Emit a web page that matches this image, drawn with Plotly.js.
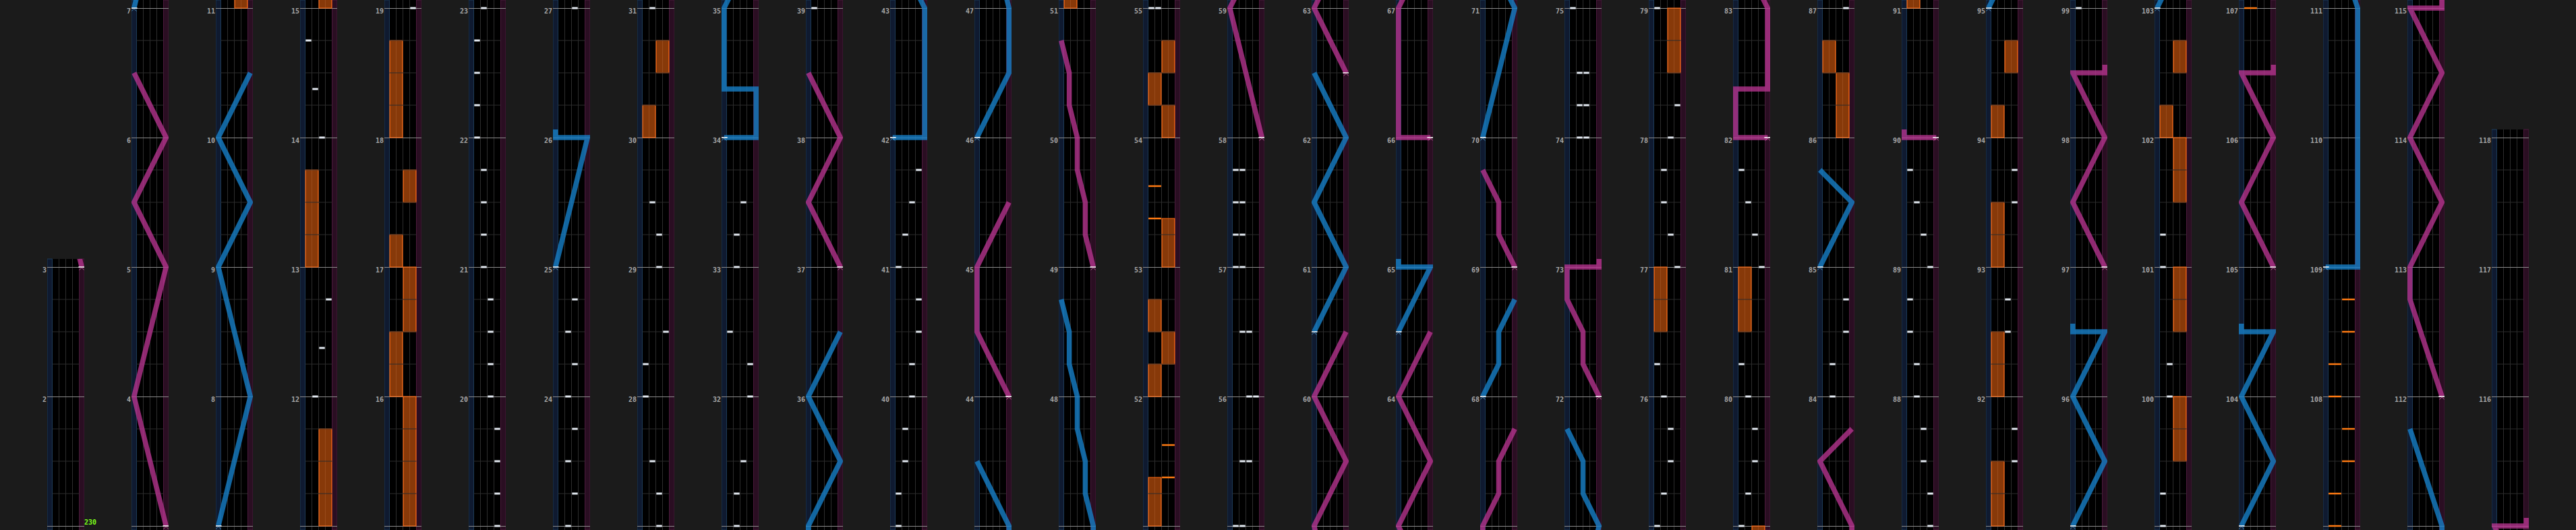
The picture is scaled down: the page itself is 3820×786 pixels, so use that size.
<!DOCTYPE html>
<html><head><meta charset="utf-8">
<script src="https://cdn.plot.ly/plotly-3.0.1.min.js"></script>
<style>html,body{margin:0;padding:0;background:#1b1b1b;overflow:hidden}</style>
</head><body><div id="chart" style="width:3820px;height:786px"></div>
<script>
// ---------------- chart data (measures are 1-based, fractions = position in measure) ----------------
const firstMeasure = 1;
const lastMeasure = 118;
const bpmMarks = [[1, 230]];                 // [measure, bpm]
// BT chips: [time, lane 0..3]
const btNotes = [
  [12,1],[12.375,2],[12.75,3],[14,2],[14.375,1],[14.75,0],
  [19,3],[19.25,3],[19.5,3],[19.75,3],[20,2],[20.25,2],[20.5,2],[20.75,2],
  [21,1],[21.25,1],[21.5,1],[21.75,1],[22,0],[22.25,0],[22.5,0],[22.75,0],
  [23,1],[23.25,2],[23.5,1],[23.75,2],[24,1],[24.25,2],[24.5,1],[24.75,2],
  [27,2],[27.25,2],[27.5,1],[28,0],[28.25,0],[28.5,3],[29,2],[29.25,2],[29.5,1],
  [31,1],[31.25,1],[31.5,2],[32,3],[32.25,3],[32.5,0],[33,1],[33.25,1],[33.5,2],
  [39,0],[39.25,0],[39.5,1],[39.75,1],[40,2],[40.25,2],[40.5,3],[40.75,3],
  [41,0],[41.25,1],[41.5,2],[41.75,3],
  [55,0],[55,1],[55.5,1],[55.5,2],[56,2],[56,3],[56.5,1],[56.5,2],
  [57,0],[57,1],[57.25,0],[57.25,1],[57.5,0],[57.5,1],[57.75,0],[57.75,1],
  [74,1],[74,2],[74.25,1],[74.25,2],[74.5,1],[74.5,2],
  [75,0],[75.25,1],[75.5,2],[75.75,2],[76,1],[76.25,0],
  [77,3],[77.25,2],[77.5,1],[77.75,1],[78,2],[78.25,3],
  [79,0],[79.25,1],[79.5,2],[79.75,2],[80,1],[80.25,0],
  [81,3],[81.25,2],[81.5,1],[81.75,0],
  [84,1],[84.25,1],[84.5,3],[84.75,3],
  [87,3],[87.25,3],[87.5,2],[87.75,2],[88,1],[88.25,1],[88.5,0],[88.75,0],
  [89,3],[89.25,2],[89.5,1],[89.75,0],
  [91.5,3],[91.75,3],[92.5,2],[92.75,2],[93.5,3],[93.75,3],
  [99,0],[99.25,0],[100,1],[100.25,1],[101,0],[101.25,0]
];
// FX chips: [time, side 0=L 1=R]
const fxChips = [
  [51.375,1],[51.625,1],[53.375,0],[53.625,0],
  [107,0],[107.25,0],[107.5,1],[107.75,1],[108,0],[108.25,0],[108.5,1],[108.75,1]
];
// FX holds: [start, end, side]
const fxHolds = [
  [11,11.75,1],[13,13.75,0],[15,16,1],[16,16.5,0],[16.5,17,1],[17,17.25,0],[17.5,17.75,1],[18,18.75,0],
  [30,30.25,0],[30.5,30.75,1],
  [51,51.375,0],[52,52.25,0],[52.25,52.5,1],[52.5,52.75,0],[53,53.375,1],[54,54.25,1],[54.25,54.5,0],[54.5,54.75,1],
  [76.5,77,0],[78.5,79,1],[80.5,81,0],[86,86.5,1],[86.5,86.75,0],
  [91,91.5,0],[92,92.5,0],[93,93.5,0],[94,94.25,0],[94.5,94.75,1],
  [99.5,100,1],[100.5,101,1],[101.5,102,1],[102,102.25,0],[102.5,102.75,1]
];
// lasers: list of [time, position 0..1]
const blueLasers = [
  [[7,0],[8,1],[9,0],[9.5,1],[10,0],[10.5,1]],
  [[25,0],[26,1],[26,0],[26.0625,0]],
  [[34,0],[34,1],[34.375,1],[34.375,0],[35,0],[35.5,1],[36,0],[36.5,1]],
  [[42,0],[42,1],[43,1],[43.5,0]],
  [[46,0],[46.5,1],[47,1],[47.25,0.75],[47.5,0.75],[47.75,0.5],[48,0.5],[48.25,0.25],[48.5,0.25],[48.75,0]],
  [[60.5,0],[61,1],[61.5,0],[62,1],[62.5,0]],
  [[64.5,0],[65,1],[65,0],[65.0625,0]],
  [[68,0],[68.25,0.5],[68.5,0.5],[68.75,1]],
  [[70,0],[71,1],[71.25,0.5],[71.5,0.5],[71.75,0]],
  [[85,0],[85.5,1],[85.75,0]],
  [[95,0],[95.5,1],[96,0],[96.5,1],[96.5,0],[96.5625,0]],
  [[103,0],[103.5,1],[104,0],[104.5,1],[104.5,0],[104.5625,0]],
  [[109,0],[109,1],[111,1],[111.75,0]]
];
const pinkLasers = [
  [[3,1],[4,0],[5,1],[5.5,0],[6,1],[6.5,0]],
  [[37,1],[37.5,0],[38,1],[38.5,0]],
  [[44,1],[44.5,0],[45,0],[45.5,1]],
  [[49,1],[49.25,0.75],[49.5,0.75],[49.75,0.5],[50,0.5],[50.25,0.25],[50.5,0.25],[50.75,0]],
  [[58,1],[59,0],[59.5,1],[60,0],[60.5,1]],
  [[62.5,1],[63,0],[63.5,1],[64,0],[64.5,1]],
  [[66,1],[66,0],[67,0],[67.25,0.5],[67.5,0.5],[67.75,1]],
  [[69,1],[69.25,0.5],[69.5,0.5],[69.75,0]],
  [[72,1],[72.25,0.5],[72.5,0.5],[72.75,0],[73,0],[73,1],[73.0625,1]],
  [[82,1],[82,0],[82.375,0],[82.375,1],[83,1],[83.5,0],[83.75,1]],
  [[90,1],[90,0],[90.0625,0]],
  [[97,1],[97.5,0],[98,1],[98.5,0],[98.5,1],[98.5625,1]],
  [[105,1],[105.5,0],[106,1],[106.5,0],[106.5,1],[106.5625,1]],
  [[112,1],[112.75,0],[113,0],[113.5,1],[114,0],[114.5,1],[115,0],[115,1],[115.0625,1]]
];

// ---------------- layout geometry ----------------
const W = 3820, H = 786;
const COL_X0 = 70, COL_STEP = 125, COL_W = 55;
const PX_PER_MEASURE = 192;
const PAD_TOP = 12 / PX_PER_MEASURE, PAD_BOTTOM = 6 / PX_PER_MEASURE;
const PER_COL = 4;
const nCols = Math.ceil((lastMeasure - 3) / PER_COL) + 1;
const laserX = p => -0.375 + p * 4.75;   // laser position -> lane-unit x
const CHEV_DX = 0.17, CHEV_DY = 2.6 / PX_PER_MEASURE;

const BLUE = 'rgba(22,128,200,0.80)';
const PINK = 'rgba(185,52,145,0.78)';
const FONT = 'DejaVu Sans Mono';

const traces = [];
const shapes = [];
const layout = {
  width: W, height: H, autosize: false,
  margin: {l: 0, r: 0, t: 0, b: 0, pad: 0},
  paper_bgcolor: '#1b1b1b', plot_bgcolor: '#000000',
  showlegend: false, barmode: 'overlay', hovermode: false,
  shapes: shapes
};

for (let k = 0; k < nCols; k++) {
  const sfx = k === 0 ? '' : String(k + 1);
  const xa = 'x' + sfx, ya = 'y' + sfx;
  const mLo = Math.max(PER_COL * k - 1, firstMeasure);
  const mHi = Math.min(PER_COL * k + 3, lastMeasure);
  const lo = mLo - PAD_BOTTOM, hi = mHi + PAD_TOP;
  const inR = t => t >= lo - 0.05 && t <= hi + 0.05;
  const left = COL_X0 + COL_STEP * k;

  layout['xaxis' + sfx] = {
    domain: [left / W, (left + COL_W) / W], anchor: ya,
    range: [-0.75, 4.75], fixedrange: true,
    tickmode: 'array', tickvals: [1, 2, 3], showticklabels: false, ticks: '',
    showgrid: true, gridcolor: '#2d2d2d', gridwidth: 1, zeroline: false, showline: false
  };
  layout['yaxis' + sfx] = {
    domain: [0, Math.min(1, (hi - lo) * PX_PER_MEASURE / H)], anchor: xa,
    range: [lo, hi], fixedrange: true,
    tickmode: 'linear', tick0: 0, dtick: 1, ticks: '',
    showticklabels: true, ticklabelshift: 4, ticklabelstandoff: 0,
    tickfont: {family: FONT, size: 10, color: '#a6a6a6', weight: 'bold'},
    showgrid: true, gridcolor: '#8a8a8a', gridwidth: 1, zeroline: false, showline: false
  };

  // lane strips
  shapes.push({type: 'rect', xref: xa, yref: ya + ' domain', x0: -0.75, x1: 0, y0: 0, y1: 1,
    fillcolor: '#0f1a30', line: {color: '#1d3a56', width: 1}, layer: 'below'});
  shapes.push({type: 'rect', xref: xa, yref: ya + ' domain', x0: 4, x1: 4.75, y0: 0, y1: 1,
    fillcolor: '#2a0e22', line: {color: '#4b1a3c', width: 1}, layer: 'below'});

  // beat lines
  const bx = [], by = [];
  for (let m = Math.floor(lo); m <= Math.ceil(hi); m++) {
    for (let q = 1; q < 4; q++) {
      const t = m + q / 4;
      if (t > lo && t < hi) { bx.push(0, 4, null); by.push(t, t, null); }
    }
  }
  traces.push({type: 'scatter', mode: 'lines', xaxis: xa, yaxis: ya, x: bx, y: by,
    line: {color: '#2d2d2d', width: 1}, hoverinfo: 'skip'});

  // FX holds
  const hs = fxHolds.filter(h => h[1] > lo - 0.05 && h[0] < hi + 0.05);
  if (hs.length) traces.push({type: 'bar', xaxis: xa, yaxis: ya,
    x: hs.map(h => h[2] * 2 + 1), base: hs.map(h => h[0]), y: hs.map(h => h[1] - h[0]),
    width: hs.map(() => 1.88),
    marker: {color: 'rgba(225,95,15,0.60)', line: {color: '#ff6a12', width: 1.2}}, hoverinfo: 'skip'});

  // FX chips
  const fx = [], fy = [];
  fxChips.filter(c => inR(c[0])).forEach(c => { fx.push(c[1]*2 + 0.06, c[1]*2 + 1.94, null); fy.push(c[0], c[0], null); });
  if (fx.length) traces.push({type: 'scatter', mode: 'lines', xaxis: xa, yaxis: ya, x: fx, y: fy,
    line: {color: '#ff7a12', width: 2.5}, hoverinfo: 'skip'});

  // BT chips
  const nx = [], ny = [];
  btNotes.filter(n => inR(n[0])).forEach(n => { nx.push(n[1] + 0.08, n[1] + 0.92, null); ny.push(n[0], n[0], null); });
  if (nx.length) traces.push({type: 'scatter', mode: 'lines', xaxis: xa, yaxis: ya, x: nx, y: ny,
    line: {color: '#e2e8f0', width: 3}, hoverinfo: 'skip'});

  // lasers
  [[blueLasers, BLUE, 'rgba(80,150,200,0.9)'], [pinkLasers, PINK, 'rgba(200,90,160,0.9)']].forEach(([set, col, capCol]) => {
    const lx = [], ly = [], sx = [], sy = [];
    set.filter(L => L[L.length-1][0] > lo - 0.05 && L[0][0] < hi + 0.05).forEach(L => {
      L.forEach(p => { lx.push(laserX(p[1])); ly.push(p[0]); });
      lx.push(null); ly.push(null);
      if (L[0][0] >= lo && L[0][0] <= hi) { sx.push(laserX(L[0][1])); sy.push(L[0][0]); }
    });
    if (lx.length) traces.push({type: 'scatter', mode: 'lines', xaxis: xa, yaxis: ya, x: lx, y: ly,
      line: {color: col, width: 7.5}, hoverinfo: 'skip'});
    if (sx.length) {
      // start tick
      traces.push({type: 'scatter', mode: 'markers', xaxis: xa, yaxis: ya, x: sx, y: sy,
        marker: {symbol: 'line-ew', size: 7, line: {color: '#ffffff', width: 1.5}}, hoverinfo: 'skip'});
      // start chevron "^" (two strokes)
      traces.push({type: 'scatter', mode: 'markers', xaxis: xa, yaxis: ya,
        x: sx.map(v => v - CHEV_DX), y: sy.map(v => v - CHEV_DY),
        marker: {symbol: 'line-ne', size: 4, line: {color: capCol, width: 1}}, hoverinfo: 'skip'});
      traces.push({type: 'scatter', mode: 'markers', xaxis: xa, yaxis: ya,
        x: sx.map(v => v + CHEV_DX), y: sy.map(v => v - CHEV_DY),
        marker: {symbol: 'line-nw', size: 4, line: {color: capCol, width: 1}}, hoverinfo: 'skip'});
    }
  });

  // BPM marks
  const bm = bpmMarks.filter(b => b[0] >= mLo && b[0] <= mHi);
  if (bm.length) traces.push({type: 'scatter', mode: 'text', xaxis: xa, yaxis: ya,
    x: bm.map(() => 4.75), y: bm.map(b => b[0]), text: bm.map(b => String(b[1])),
    textposition: 'top right', cliponaxis: false,
    textfont: {family: FONT, size: 10, color: '#7cff1a', weight: 'bold'}, hoverinfo: 'skip'});
}

Plotly.newPlot('chart', traces, layout, {staticPlot: true, displayModeBar: false});
</script></body></html>
